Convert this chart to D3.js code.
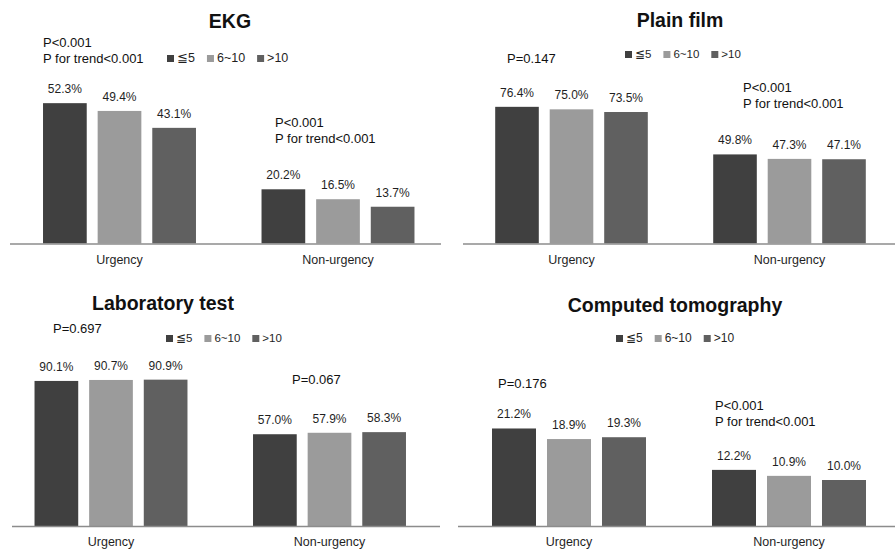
<!DOCTYPE html>
<html><head><meta charset="utf-8">
<script src="https://cdn.jsdelivr.net/npm/d3@7"></script>
<style>
body{margin:0;background:#fff}
svg{display:block}
text{font-family:"Liberation Sans",Arial,sans-serif;}
</style>
</head><body>
<svg id="chart" width="895" height="551"></svg>
<script>
// ---- data ----
const panelTitles = ["EKG", "Plain film", "Laboratory test", "Computed tomography"];
const categories = ["Urgency", "Non-urgency"];
const seriesNames = ["≦5", "6~10", ">10"];
const ekgValues = [[52.3, 49.4, 43.1], [20.2, 16.5, 13.7]];
const plainFilmValues = [[76.4, 75.0, 73.5], [49.8, 47.3, 47.1]];
const labValues = [[90.1, 90.7, 90.9], [57.0, 57.9, 58.3]];
const ctValues = [[21.2, 18.9, 19.3], [12.2, 10.9, 10.0]];
const yMaxima = [60, 90, 100, 35];
const ekgNotes = [["P<0.001", "P for trend<0.001"], ["P<0.001", "P for trend<0.001"]];
const plainFilmNotes = [["P=0.147"], ["P<0.001", "P for trend<0.001"]];
const labNotes = [["P=0.697"], ["P=0.067"]];
const ctNotes = [["P=0.176"], ["P<0.001", "P for trend<0.001"]];

// ---- styles / layout ----
const colors = ["#404040", "#9b9b9b", "#606060"];
const plotH = 161;
const layouts = [
  {titleX: 230, titleY: 28, baseY: 243.5, range: [10.25, 447.25], axis: [10, 441], legendX: 167, legendY: 62, legendFs: 12.5,
   notes: [{x: 43, y: 47}, {x: 275, y: 127}]},
  {titleX: 680, titleY: 27, baseY: 243.5, range: [462.5, 898.5], axis: [463, 895], legendX: 625, legendY: 58, legendFs: 11.5,
   notes: [{x: 507, y: 63}, {x: 743, y: 92}]},
  {titleX: 163, titleY: 310, baseY: 526, range: [1.75, 438.75], axis: [12, 440], legendX: 166, legendY: 342, legendFs: 11.5,
   notes: [{x: 53, y: 333}, {x: 292, y: 384}]},
  {titleX: 675, titleY: 312, baseY: 526, range: [459, 899], axis: [458, 895], legendX: 616, legendY: 342, legendFs: 12,
   notes: [{x: 498, y: 388}, {x: 715, y: 410}]}
];
const allValues = [ekgValues, plainFilmValues, labValues, ctValues];
const allNotes = [ekgNotes, plainFilmNotes, labNotes, ctNotes];

const svg = d3.select("#chart");

panelTitles.forEach((title, pi) => {
  const L = layouts[pi];
  const values = allValues[pi];
  const g = svg.append("g");

  const x0 = d3.scaleBand().domain(categories).range(L.range).paddingInner(0.3).paddingOuter(0.15);
  const x1 = d3.scaleBand().domain(seriesNames).range([0, x0.bandwidth()]).paddingInner(0.2);
  const y = d3.scaleLinear().domain([0, yMaxima[pi]]).range([L.baseY, L.baseY - plotH]);

  // title
  g.append("text").attr("x", L.titleX).attr("y", L.titleY).attr("text-anchor", "middle")
    .attr("font-size", 19.5).attr("font-weight", "bold").attr("fill", "#111").text(title);

  // bars
  const groups = g.selectAll("g.cat").data(categories).enter().append("g")
    .attr("transform", c => `translate(${x0(c)},0)`);
  groups.each(function(c, ci) {
    const cg = d3.select(this);
    const rows = seriesNames.map((s, si) => ({s, si, v: values[ci][si]}));
    cg.selectAll("rect").data(rows).enter().append("rect")
      .attr("x", d => x1(d.s)).attr("width", x1.bandwidth())
      .attr("y", d => y(d.v)).attr("height", d => y(0) - y(d.v))
      .attr("fill", d => colors[d.si]);
    cg.selectAll("text.val").data(rows).enter().append("text")
      .attr("x", d => x1(d.s) + x1.bandwidth() / 2).attr("y", d => y(d.v) - 10)
      .attr("text-anchor", "middle").attr("font-size", 12).attr("fill", "#1f1f1f")
      .text(d => d.v.toFixed(1) + "%");
  });

  // axis line
  g.append("line").attr("x1", L.axis[0]).attr("x2", L.axis[1]).attr("y1", y(0) + 0.5).attr("y2", y(0) + 0.5)
    .attr("stroke", "#8c8c8c").attr("stroke-width", 1.5);

  // category labels via axis
  const ax = d3.axisBottom(x0).tickSize(0).tickPadding(0);
  const axG = g.append("g").attr("transform", `translate(0,${L.baseY})`).call(ax);
  axG.select(".domain").remove();
  axG.selectAll("text").attr("font-size", 12.5).attr("fill", "#1f1f1f")
    .attr("dy", null).attr("y", 20).style("font-family", "'Liberation Sans',Arial,sans-serif");

  // notes
  allNotes[pi].forEach((lines, ci) => {
    lines.forEach((t, li) => {
      g.append("text").attr("x", L.notes[ci].x).attr("y", L.notes[ci].y + li * 16)
        .attr("font-size", 13).attr("fill", "#111").text(t);
    });
  });

  // legend
  let lx = L.legendX;
  seriesNames.forEach((s, si) => {
    g.append("rect").attr("x", lx).attr("y", L.legendY - 7).attr("width", 7).attr("height", 7).attr("fill", colors[si]);
    const t = g.append("text").attr("x", lx + 10).attr("y", L.legendY).attr("font-size", L.legendFs)
      .attr("fill", "#1f1f1f").text(s);
    lx = lx + 10 + t.node().getComputedTextLength() + 12;
  });
});
</script>
</body></html>
